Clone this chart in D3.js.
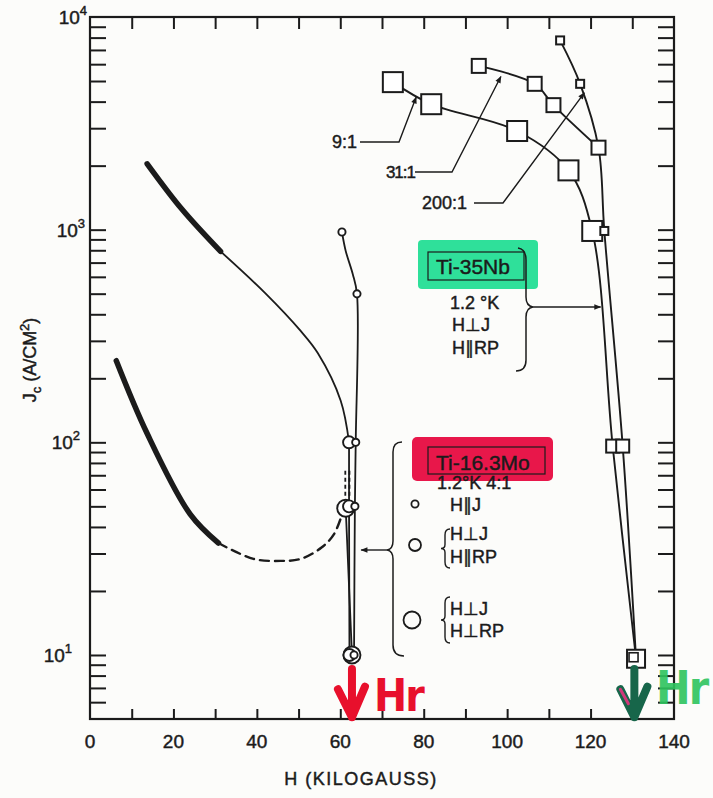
<!DOCTYPE html>
<html>
<head>
<meta charset="utf-8">
<script src="https://cdn.jsdelivr.net/npm/d3@7"></script>
<style>
  body { margin: 0; background: #fcfcfa; }
  svg { display: block; font-family: "Liberation Sans", Arial, sans-serif; }
  text.ink { fill: #1b1b1b; stroke: #1b1b1b; stroke-width: 0.45; }
</style>
</head>
<body>
<div id="chart"></div>
<script>
// Ti-35Nb at 1.2 K (squares); H in kilogauss, Jc in A/cm2
const nb9H = [72.6, 81.8, 102.4, 114.7, 120.4, 125.3, 130.9];
const nb9J = [4940, 3890, 2910, 1900, 986, 96, 9.6];
const nb31H = [93.2, 106.6, 111.1, 121.9];
const nb31J = [5890, 4850, 3850, 2430];
const nb200H = [112.7, 117.5, 121.9, 123.3, 127.7, 130.9];
const nb200J = [7760, 4850, 2430, 986, 96, 9.6];

// Ti-16.3Mo at 1.2 K (circles and the two heavy curves)
const moUpThickH = [13.7, 22, 31.3];
const moUpThickJ = [2040, 1250, 790];
const moUpThinH = [31.3, 42, 50.5, 54.6, 60.1, 62.1];
const moUpThinJ = [790, 503, 334, 263, 157, 100];
const moLoThickH = [6.3, 13.7, 24, 30.8];
const moLoThickJ = [242, 110, 46, 33.6];
const moLoDashH = [30.8, 39.2, 45.7, 50.5, 55.5, 58.5, 60.6];
const moLoDashJ = [33.6, 28.3, 27.7, 28.3, 32, 37, 47];
const moParJH = [60.4, 61.3, 63, 64, 63.7, 63.5, 63.3];
const moParJJ = [975, 794, 617, 499, 100, 50, 10];
const moPerpParH = [62.1, 62.1, 62.2];
const moPerpParJ = [100, 50, 10];
const moPerpPerpH = [61.3, 62.8];
const moPerpPerpJ = [49, 10];
const moGuideH = [61.2, 62.2];
const moGuideJ = [56, 75];

// axes
const xLabels = [0, 20, 40, 60, 80, 100, 120, 140];
const xMinor = [10, 20, 30, 40, 50, 60, 70, 80, 90, 100, 110, 120, 130];
const yDecades = [10, 100, 1000, 10000];
const yExp = ["1", "2", "3", "4"];
const yMinor = [6, 7, 8, 9, 10, 20, 30, 40, 50, 60, 70, 80, 90, 100, 200, 300,
  400, 500, 600, 700, 800, 900, 1000, 2000, 3000, 4000, 5000, 6000, 7000, 8000, 9000];

const zip = (a, b) => a.map((v, i) => [v, b[i]]);

const width = 713, height = 798;
const x = d3.scaleLinear().domain([0, 140]).range([90, 674]);
const y = d3.scaleLog().domain([5, 10000]).range([719, 17]);
const ink = "#1b1b1b";

const svg = d3.select("#chart").append("svg")
  .attr("width", width).attr("height", height);

svg.append("rect").attr("width", width).attr("height", height).attr("fill", "#fcfcfa");

const defs = svg.append("defs");
defs.append("marker").attr("id", "arr").attr("viewBox", "0 0 10 10")
  .attr("refX", 9).attr("refY", 5).attr("markerWidth", 9).attr("markerHeight", 7)
  .attr("markerUnits", "userSpaceOnUse").attr("orient", "auto")
  .append("path").attr("d", "M0,1 L10,5 L0,9 Z").attr("fill", ink);

/* frame and ticks */
const tickStyle = (g) => {
  g.select(".domain").remove();
  g.selectAll(".tick line").attr("stroke", ink).attr("stroke-width", 2);
};
svg.append("g").attr("transform", `translate(0,${y(5)})`)
  .call(d3.axisBottom(x).tickValues(xMinor).tickSize(-10).tickFormat(""))
  .call(tickStyle);
svg.append("g").attr("transform", `translate(0,${y(10000)})`)
  .call(d3.axisTop(x).tickValues(xMinor).tickSize(-12).tickFormat(""))
  .call(tickStyle);
svg.append("g").attr("transform", `translate(${x(0)},0)`)
  .call(d3.axisLeft(y).tickValues(yMinor).tickSize(-16).tickFormat(""))
  .call(tickStyle);
svg.append("g").attr("transform", `translate(${x(140)},0)`)
  .call(d3.axisRight(y).tickValues(yMinor).tickSize(-16).tickFormat(""))
  .call(tickStyle);
svg.append("rect")
  .attr("x", x(0)).attr("y", y(10000))
  .attr("width", x(140) - x(0)).attr("height", y(5) - y(10000))
  .attr("fill", "none").attr("stroke", ink).attr("stroke-width", 2.2);

svg.append("g").selectAll("text").data(xLabels).join("text")
  .attr("class", "ink")
  .attr("x", (d) => x(d)).attr("y", 748)
  .attr("text-anchor", "middle").attr("font-size", 19)
  .text((d) => d);

// the scan is slightly skewed, so the decade labels drift left going down
const yLabelRight = [72, 80, 85, 87];
const yl = svg.append("g").selectAll("text").data(yDecades).join("text")
  .attr("class", "ink")
  .attr("x", (d, i) => yLabelRight[i]).attr("y", (d) => y(d) + 7)
  .attr("text-anchor", "end").attr("font-size", 19);
yl.append("tspan").text("10");
yl.append("tspan").attr("dy", -9).attr("font-size", 13).text((d, i) => yExp[i]);

svg.append("text").attr("class", "ink").attr("x", 361).attr("y", 785)
  .attr("text-anchor", "middle")
  .attr("font-size", 18).attr("letter-spacing", 1.5)
  .text("H (KILOGAUSS)");
const ylab = svg.append("text").attr("class", "ink")
  .attr("transform", "translate(36,360) rotate(-90)")
  .attr("text-anchor", "middle").attr("font-size", 18);
ylab.append("tspan").text("J");
ylab.append("tspan").attr("dy", 5).attr("font-size", 13).text("c");
ylab.append("tspan").attr("dy", -5).text(" (A/CM");
ylab.append("tspan").attr("dy", -7).attr("font-size", 13).text("2");
ylab.append("tspan").attr("dy", 7).text(")");

/* curves */
const line = d3.line().x((d) => x(d[0])).y((d) => y(d[1]))
  .curve(d3.curveCatmullRom.alpha(0.5));
const drawCurve = (pts, w, dash) =>
  svg.append("path").datum(pts).attr("d", line)
    .attr("fill", "none").attr("stroke", ink).attr("stroke-width", w)
    .attr("stroke-linecap", "round").attr("stroke-dasharray", dash || null);

drawCurve(zip(moUpThickH, moUpThickJ), 5.5);
drawCurve(zip(moUpThinH, moUpThinJ), 1.8);
drawCurve(zip(moLoThickH, moLoThickJ), 5.5);
drawCurve(zip(moLoDashH, moLoDashJ), 2.4, "9 6");
drawCurve(zip(moParJH, moParJJ), 1.8);
drawCurve(zip(moPerpParH, moPerpParJ), 1.8);
drawCurve(zip(moPerpPerpH, moPerpPerpJ), 1.8);
moGuideH.forEach((h) =>
  svg.append("line").attr("x1", x(h)).attr("x2", x(h))
    .attr("y1", y(moGuideJ[0])).attr("y2", y(moGuideJ[1]))
    .attr("stroke", ink).attr("stroke-width", 1.8).attr("stroke-dasharray", "4 3"));

drawCurve(zip(nb9H, nb9J), 1.9);
drawCurve(zip(nb31H, nb31J), 1.9);
drawCurve(zip(nb200H, nb200J), 1.9);

/* markers */
const squareSize = (j, base) => (j < 20 ? 18 : j < 200 ? 13 : base);
const drawSquares = (pts, base) =>
  svg.append("g").selectAll("rect").data(pts).join("rect")
    .attr("x", (d) => x(d[0]) - squareSize(d[1], base) / 2)
    .attr("y", (d) => y(d[1]) - squareSize(d[1], base) / 2)
    .attr("width", (d) => squareSize(d[1], base))
    .attr("height", (d) => squareSize(d[1], base))
    .attr("fill", "#fff").attr("stroke", ink).attr("stroke-width", 2);

drawSquares(zip(nb9H, nb9J).slice(0, 6), 20);
drawSquares(zip(nb31H, nb31J), 14);
drawSquares(zip(nb200H, nb200J).filter((d, i) => i !== 2 && i !== 5), 8);
drawSquares(zip(nb9H, nb9J).slice(6), 18);
svg.append("rect")
  .attr("x", x(nb200H[5]) - 7).attr("y", y(nb200J[5]) - 6)
  .attr("width", 9).attr("height", 9)
  .attr("fill", "none").attr("stroke", ink).attr("stroke-width", 1.6);

const drawCircles = (pts, r) =>
  svg.append("g").selectAll("circle").data(pts).join("circle")
    .attr("cx", (d) => x(d[0])).attr("cy", (d) => y(d[1])).attr("r", r)
    .attr("fill", "#fff").attr("stroke", ink).attr("stroke-width", 1.9);

drawCircles(zip(moPerpPerpH, moPerpPerpJ), 8.5);
drawCircles(zip(moPerpParH, moPerpParJ), 6);
drawCircles(zip(moParJH, moParJJ).filter((d, i) => i !== 1 && i !== 2), 3.6);

/* Ti-35Nb annotations */
const txt = (tx, ty, s, size, anchor) =>
  svg.append("text").attr("class", "ink").attr("x", tx).attr("y", ty)
    .attr("font-size", size || 18).attr("text-anchor", anchor || "start").text(s);

txt(357, 148, "9:1", 18, "end");
txt(415, 178, "31:1", 17, "end").attr("letter-spacing", -1);
txt(422, 209, "200:1", 18);
const leader = (pts) =>
  svg.append("path").attr("d", d3.line()(pts)).attr("fill", "none")
    .attr("stroke", ink).attr("stroke-width", 1.4).attr("marker-end", "url(#arr)");
leader([[360, 142], [399, 142], [x(78.2), y(4200)]]);
leader([[415, 172], [452, 172], [x(98.5), y(5250)]]);
leader([[474, 203], [503, 203], [x(118.5), y(4400)]]);

svg.append("rect").attr("x", 418).attr("y", 240).attr("width", 120).attr("height", 49)
  .attr("rx", 4).attr("fill", "#2fe09a");
svg.append("rect").attr("x", 428).attr("y", 252).attr("width", 96).attr("height", 28)
  .attr("fill", "none").attr("stroke", ink).attr("stroke-width", 1.2);
txt(436, 274, "Ti-35Nb", 21);
txt(450, 309, "1.2 °K", 18);
txt(452, 331, "H\u22a5J", 18);
txt(452, 354, "H\u2225RP", 18);
svg.append("path")
  .attr("d", "M518,248 Q526,249 526,260 L526,297 Q526,306 533,307 Q526,308 526,317 L526,360 Q526,371 516,371")
  .attr("fill", "none").attr("stroke", ink).attr("stroke-width", 1.5);
leader([[533, 307], [x(122.4), 307]]);

/* Ti-16.3Mo annotations */
svg.append("rect").attr("x", 412).attr("y", 437).attr("width", 141).attr("height", 44)
  .attr("rx", 5).attr("fill", "#e8174a");
svg.append("rect").attr("x", 428).attr("y", 447).attr("width", 117).attr("height", 27)
  .attr("fill", "none").attr("stroke", ink).attr("stroke-width", 1.2);
txt(436, 470, "Ti-16.3Mo", 21);
txt(437, 489, "1.2°K  4:1", 18);
txt(450, 511, "H\u2225J", 18);
txt(450, 540, "H\u22a5J", 18);
txt(450, 563, "H\u2225RP", 18);
txt(450, 615, "H\u22a5J", 18);
txt(450, 637, "H\u22a5RP", 18);
svg.append("circle").attr("cx", 415).attr("cy", 504).attr("r", 3.6)
  .attr("fill", "none").attr("stroke", ink).attr("stroke-width", 1.8);
svg.append("circle").attr("cx", 415).attr("cy", 545).attr("r", 6)
  .attr("fill", "none").attr("stroke", ink).attr("stroke-width", 1.8);
svg.append("circle").attr("cx", 412).attr("cy", 620).attr("r", 8.5)
  .attr("fill", "none").attr("stroke", ink).attr("stroke-width", 1.8);
const smallBrace = (top, bot) => {
  const mid = (top + bot) / 2;
  return `M450,${top} Q445,${top} 445,${top + 6} L445,${mid - 4} Q445,${mid} 441,${mid} ` +
    `Q445,${mid} 445,${mid + 4} L445,${bot - 6} Q445,${bot} 450,${bot}`;
};
svg.append("path").attr("d", smallBrace(529, 568)).attr("fill", "none")
  .attr("stroke", ink).attr("stroke-width", 1.4);
svg.append("path").attr("d", smallBrace(597, 643)).attr("fill", "none")
  .attr("stroke", ink).attr("stroke-width", 1.4);
svg.append("path")
  .attr("d", "M402,442 Q393,442 393,452 L393,541 Q393,549 387,550 Q393,551 393,559 L393,645 Q393,656 404,656")
  .attr("fill", "none").attr("stroke", ink).attr("stroke-width", 1.5);
leader([[387, 550], [x(65), 550]]);

/* hand-marked critical fields */
const marker = (hx, color, color2) => {
  const cx = x(hx);
  svg.append("path")
    .attr("d", `M${cx},${y(8.6)} L${cx},${y(5.1)} M${cx - 14},${y(6.9)} L${cx},${y(5.1)} L${cx + 13},${y(7.1)}`)
    .attr("fill", "none").attr("stroke", color).attr("stroke-width", 8)
    .attr("stroke-linecap", "round").attr("stroke-linejoin", "round");
  if (color2) {
    svg.append("path").attr("d", `M${cx - 14},${y(6.9)} L${cx - 6},${y(5.9)}`)
      .attr("stroke", color2).attr("stroke-width", 3).attr("stroke-linecap", "round");
  }
};
marker(62.8, "#e8102c");
marker(130.5, "#17664a", "#d0387a");
svg.append("text").attr("x", 374).attr("y", 711).attr("font-size", 44)
  .attr("font-weight", "bold").attr("font-family", "DejaVu Sans Condensed, DejaVu Sans")
  .attr("fill", "#e8102c").attr("letter-spacing", -2).text("Hr");
svg.append("text").attr("x", 656).attr("y", 704).attr("font-size", 46)
  .attr("font-weight", "bold").attr("font-family", "DejaVu Sans Condensed, DejaVu Sans")
  .attr("fill", "#2dc45e").attr("opacity", 0.9).attr("letter-spacing", -2).text("Hr");
</script>
</body>
</html>
